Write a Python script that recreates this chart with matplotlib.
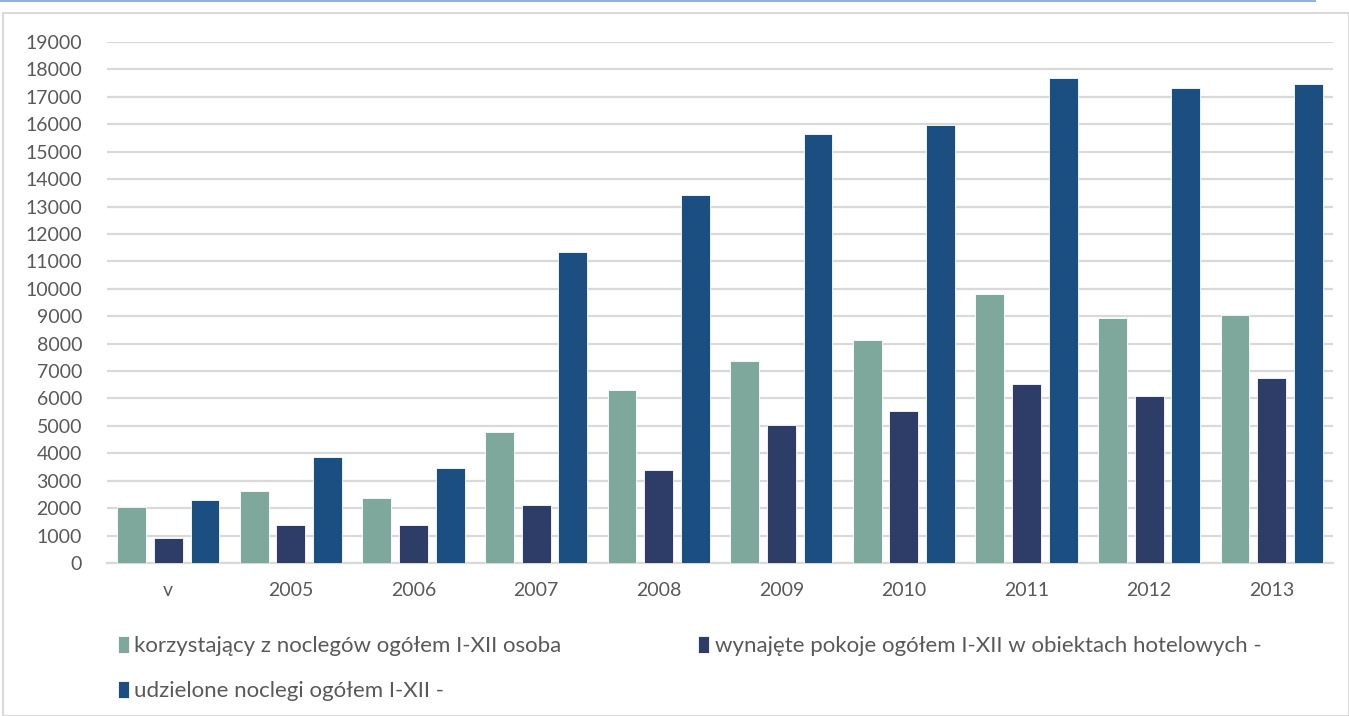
import numpy as np
import matplotlib.pyplot as plt
from matplotlib.patches import Rectangle
from matplotlib.lines import Line2D

# data
categories = ['v', '2005', '2006', '2007', '2008', '2009', '2010', '2011', '2012', '2013']
korzystajacy = [2030, 2640, 2360, 4790, 6310, 7370, 8120, 9810, 8940, 9040]
pokoje = [900, 1380, 1390, 2130, 3400, 5030, 5530, 6520, 6080, 6750]
noclegi = [2290, 3880, 3450, 11330, 13420, 15650, 15990, 17680, 17340, 17470]
labels = ['korzystający z noclegów ogółem I-XII osoba',
          'wynajęte pokoje ogółem I-XII w obiektach hotelowych -',
          'udzielone noclegi ogółem I-XII -']
colors = ['#7FA89D', '#2E3D68', '#1B4F82']
yticks = np.arange(0, 19001, 1000)

plt.rcParams['font.family'] = ['Lato', 'DejaVu Sans']
txt = '#595959'

fig = plt.figure(figsize=(13.49, 7.16), dpi=100)
ax = fig.add_axes([107 / 1349, 1 - 563 / 716, (1333 - 107) / 1349, (563 - 42) / 716])

x = np.arange(len(categories))
w = 0.235
off = 0.30
bars = []
for i, (vals, c) in enumerate(zip([korzystajacy, pokoje, noclegi], colors)):
    b = ax.bar(x + (i - 1) * off, vals, w, color=c, edgecolor='white', linewidth=0.6, zorder=3)
    bars.append(b)

ax.set_xlim(-0.5, len(categories) - 0.5)
ax.set_ylim(0, 19000)
ax.set_yticks(yticks)
ax.set_yticklabels([str(v) for v in yticks])
ax.set_xticks(x)
ax.set_xticklabels(categories)
ax.tick_params(axis='both', length=0, labelsize=14, colors=txt)
ax.tick_params(axis='y', pad=18)
ax.tick_params(axis='x', pad=14)
ax.grid(axis='y', color='#D9D9D9', linewidth=1.6, zorder=0)
for s in ['top', 'right', 'left']:
    ax.spines[s].set_visible(False)
ax.spines['bottom'].set_color('#D9D9D9')
ax.spines['bottom'].set_linewidth(1.6)

# legend in row order: entries 1,2 on first row, 3 on second
handles = [bars[0], bars[2], bars[1]]
leg_labels = [labels[0], labels[2], labels[1]]
leg = fig.legend(handles, leg_labels, ncol=2, frameon=False, loc='upper left',
                 bbox_to_anchor=(111 / 1349, 1 - 629 / 716), fontsize=16,
                 handlelength=0.5, handleheight=0.8, handletextpad=0.25,
                 columnspacing=6.15, labelspacing=1.12, labelcolor=txt,
                 borderaxespad=0, borderpad=0.3)

# chart frame and top rule
fig.add_artist(Rectangle((3 / 1349, 0), 1 - 3 / 1349, 1 - 13 / 716, transform=fig.transFigure,
                         fill=False, edgecolor='#D9D9D9', linewidth=1.5))
fig.add_artist(Line2D([0, 1315 / 1349], [1 - 0.5 / 716, 1 - 0.5 / 716], transform=fig.transFigure,
                      color='#8FB4D9', linewidth=1.5))

fig.savefig('out.png', dpi=100)
